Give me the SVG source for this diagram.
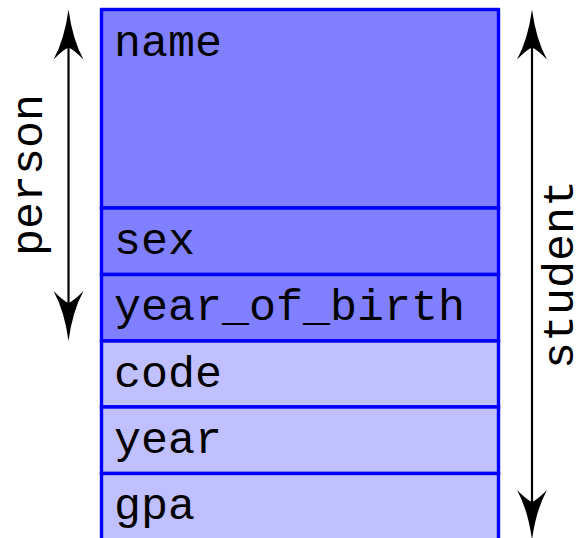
<svg xmlns="http://www.w3.org/2000/svg" width="587" height="538" viewBox="0 0 587 538">
<style>
.dark{fill:#8080ff;stroke:#0000ff;stroke-width:3.4}
.light{fill:#c0c0ff;stroke:#0000ff;stroke-width:3.4}
.t{font-family:"Liberation Mono","DejaVu Sans Mono",monospace;font-size:45px;fill:#000}
.ln{stroke:#000;stroke-width:2.2;fill:none}
</style>
<defs>
<path id="head" d="M0,0 Q4,30 15,50 Q5,40 0,38 Q-5,40 -15,50 Q-4,30 0,0 Z" fill="#000"/>
</defs>
<rect width="587" height="538" fill="#fff"/>
<g id="name"><rect class="dark" x="101.5" y="9.5" width="397" height="198.5"/><text class="t" x="114" y="55.5">name</text></g>
<g id="sex"><rect class="dark" x="101.5" y="208" width="397" height="66.5"/><text class="t" x="114" y="254">sex</text></g>
<g id="year_of_birth"><rect class="dark" x="101.5" y="274.5" width="397" height="66.5"/><text class="t" x="114" y="320">year_of_birth</text></g>
<g id="code"><rect class="light" x="101.5" y="341" width="397" height="66"/><text class="t" x="114" y="387">code</text></g>
<g id="year"><rect class="light" x="101.5" y="407" width="397" height="66.5"/><text class="t" x="114" y="453">year</text></g>
<g id="gpa"><rect class="light" x="101.5" y="473.5" width="397" height="66.5"/><text class="t" x="114" y="519">gpa</text></g>
<g id="connectors">
<g id="person-arrow">
<line class="ln" x1="68.5" y1="30" x2="68.5" y2="320"/>
<use href="#head" transform="translate(68.5,9.5)"/>
<use href="#head" transform="translate(68.5,341) rotate(180)"/>
<text class="t" transform="translate(42,175) rotate(-90)" text-anchor="middle">person</text>
</g>
<g id="student-arrow">
<line class="ln" x1="532" y1="30" x2="532" y2="520"/>
<use href="#head" transform="translate(532,9.5)"/>
<use href="#head" transform="translate(532,540) rotate(180)"/>
<text class="t" transform="translate(573,274.5) rotate(-90)" text-anchor="middle">student</text>
</g>
</g>
</svg>
